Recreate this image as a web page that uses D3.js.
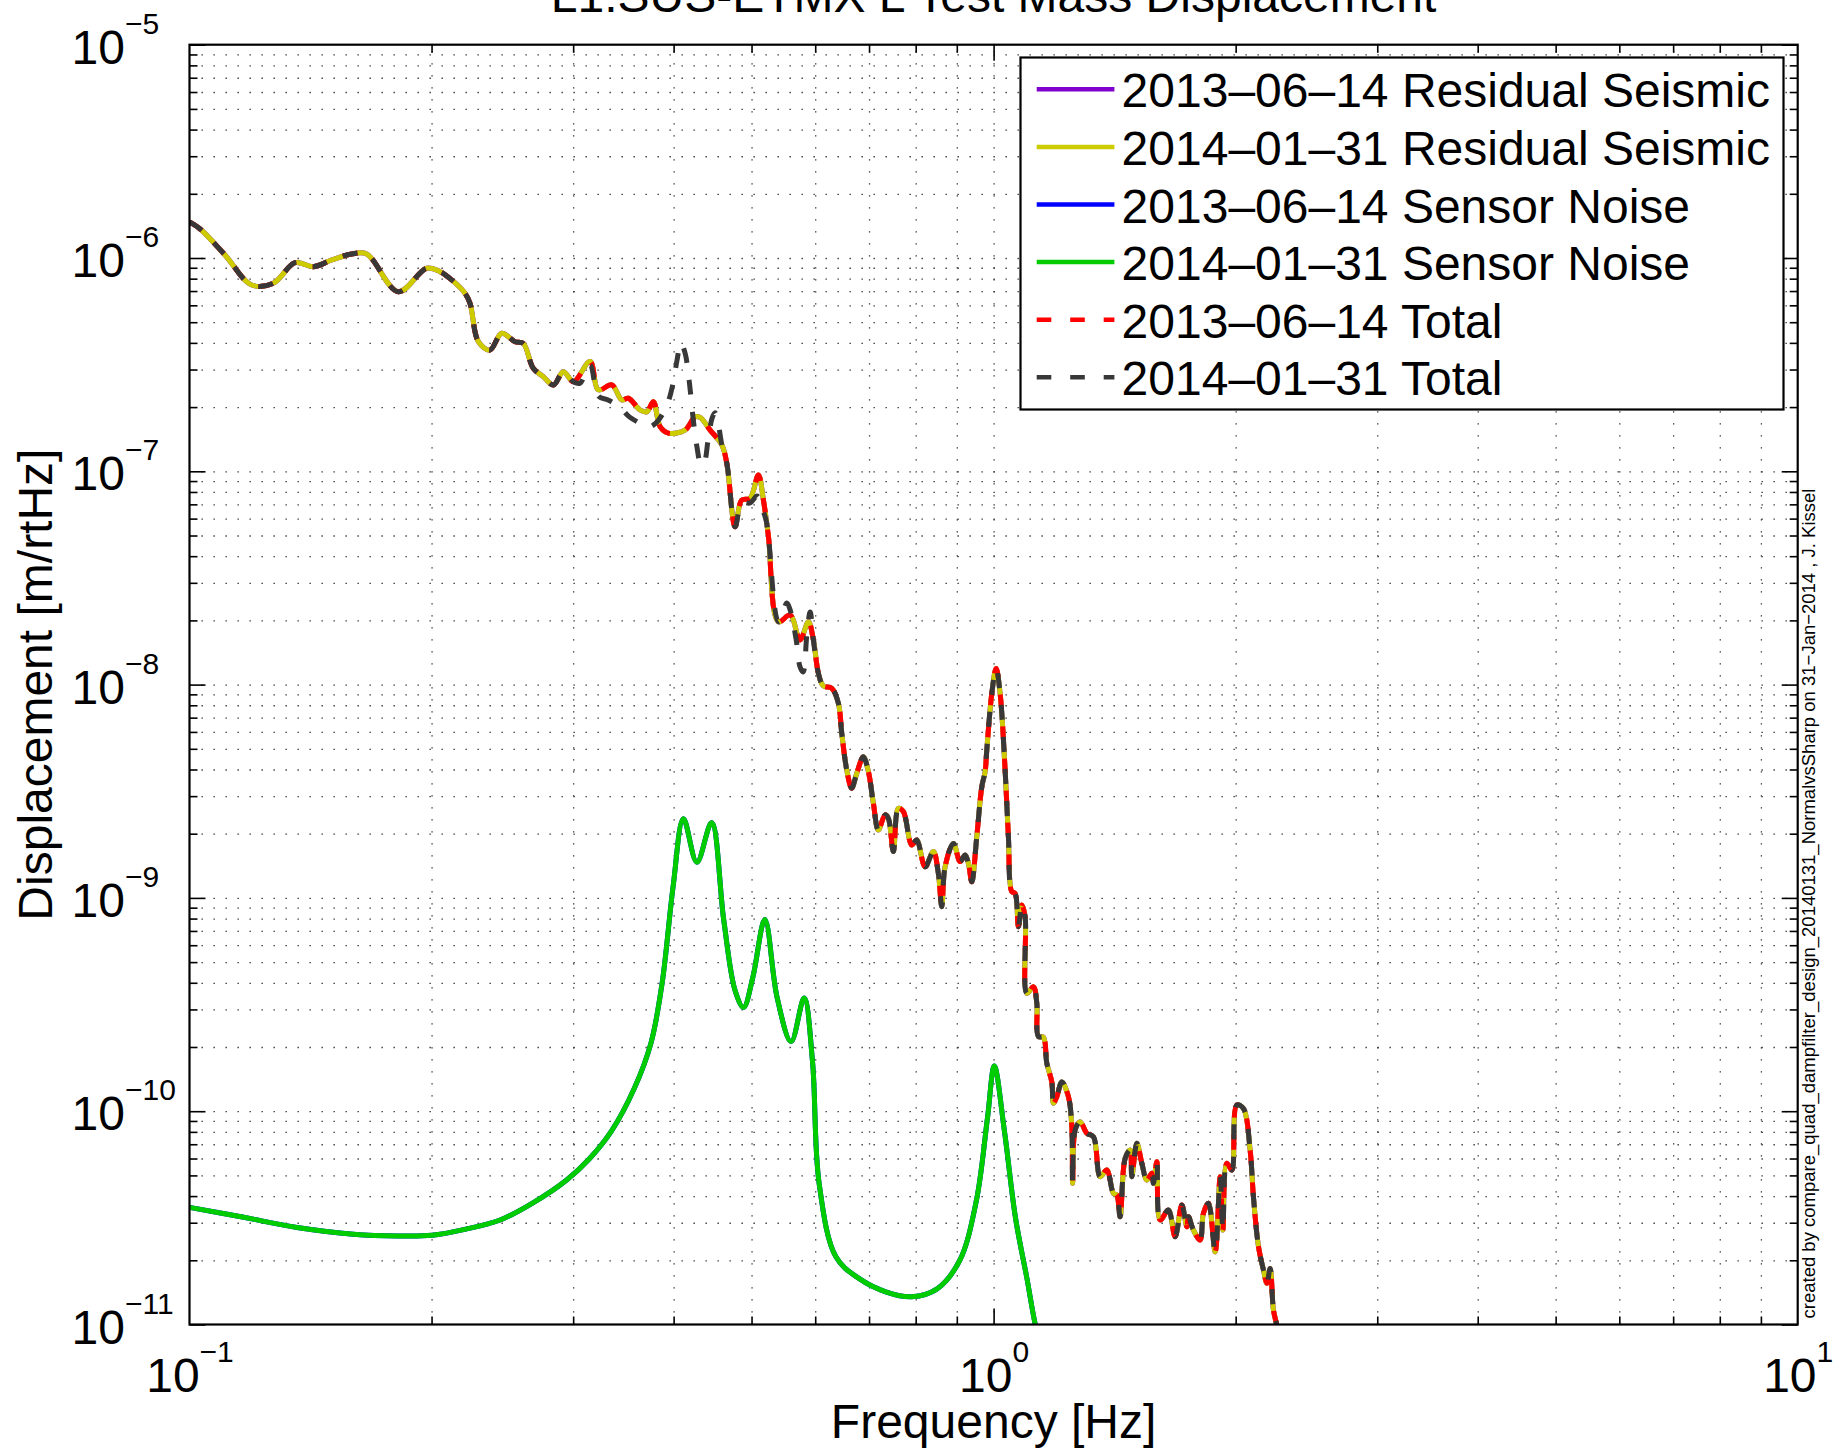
<!DOCTYPE html>
<html>
<head>
<meta charset="utf-8">
<script src="https://cdn.jsdelivr.net/npm/d3@7"></script>
<style>
  body { margin: 0; background: #fff; }
  svg text { font-family: "Liberation Sans", Arial, Helvetica, sans-serif; fill: #000; }
</style>
</head>
<body>
<div class="chart"></div>
<script>
// residual seismic (both dates lie on top of each other), [Hz, m/rtHz]
var residualSeismic = [
  [0.1, 1.475e-6], [0.1031, 1.368e-6], [0.1107, 1.033e-6], [0.1195, 7.47e-7], [0.1271, 7.61e-7],
  [0.1353, 9.51e-7], [0.1425, 9.10e-7], [0.1503, 9.79e-7], [0.1591, 1.044e-6], [0.1661, 1.044e-6],
  [0.1818, 6.95e-7], [0.1972, 8.95e-7], [0.2049, 8.63e-7], [0.2119, 7.89e-7], [0.2201, 6.83e-7],
  [0.2233, 6.13e-7], [0.2287, 4.05e-7], [0.2364, 3.70e-7], [0.2445, 4.44e-7], [0.2540, 4.05e-7],
  [0.2601, 3.98e-7], [0.2676, 3.04e-7], [0.2754, 2.78e-7], [0.2835, 2.54e-7], [0.2917, 2.93e-7],
  [0.3002, 2.63e-7], [0.3149, 3.27e-7], [0.3225, 2.41e-7], [0.3351, 2.54e-7], [0.3448, 2.16e-7],
  [0.3514, 2.20e-7], [0.3633, 1.94e-7], [0.3704, 1.90e-7], [0.3775, 2.12e-7], [0.3848, 1.62e-7],
  [0.3940, 1.51e-7], [0.4133, 1.56e-7], [0.4254, 1.80e-7], [0.4315, 1.79e-7], [0.4441, 1.56e-7],
  [0.4592, 1.33e-7], [0.4658, 1.09e-7], [0.4770, 5.50e-8], [0.4862, 7.33e-8], [0.4979, 7.47e-8],
  [0.5099, 9.61e-8], [0.5173, 7.33e-8], [0.5248, 4.94e-8], [0.5400, 1.97e-8], [0.5584, 2.12e-8],
  [0.5745, 1.62e-8], [0.5884, 1.97e-8], [0.5969, 1.62e-8], [0.6055, 1.13e-8], [0.6142, 9.85e-9],
  [0.6292, 9.61e-9], [0.6412, 8.17e-9], [0.6474, 5.91e-9], [0.6567, 3.98e-9], [0.6661, 3.27e-9],
  [0.6758, 3.84e-9], [0.6887, 4.59e-9], [0.6987, 3.91e-9], [0.7087, 2.78e-9], [0.7189, 2.08e-9],
  [0.7328, 2.45e-9], [0.7398, 2.36e-9], [0.7505, 1.65e-9], [0.7613, 2.63e-9], [0.7722, 2.54e-9],
  [0.7911, 1.77e-9], [0.8025, 1.87e-9], [0.8218, 1.40e-9], [0.8416, 1.65e-9], [0.8537, 1.30e-9],
  [0.8621, 9.10e-10], [0.8703, 1.40e-9], [0.8913, 1.80e-9], [0.9085, 1.48e-9], [0.9218, 1.59e-9],
  [0.9305, 1.45e-9], [0.9395, 1.19e-9], [0.9530, 1.94e-9], [0.9668, 3.32e-9], [0.9760, 3.91e-9],
  [0.9807, 4.94e-9], [0.9949, 9.10e-9], [1.0072, 1.19e-8], [1.0188, 9.10e-9], [1.0335, 3.98e-9],
  [1.0433, 1.94e-9], [1.0535, 1.07e-9], [1.0635, 1.05e-9], [1.0736, 7.33e-10], [1.0841, 9.26e-10],
  [1.0944, 8.17e-10], [1.0998, 3.57e-10], [1.1208, 3.83e-10], [1.1317, 3.21e-10], [1.1369, 2.24e-10],
  [1.1533, 2.22e-10], [1.1646, 1.68e-10], [1.1814, 1.37e-10], [1.1869, 1.09e-10], [1.1985, 1.17e-10],
  [1.2157, 1.37e-10], [1.2389, 1.17e-10], [1.2511, 8.46e-11], [1.2540, 4.59e-11], [1.2630, 8.17e-11],
  [1.2811, 8.93e-11], [1.3059, 7.88e-11], [1.3308, 7.59e-11], [1.3567, 4.93e-11], [1.3829, 5.30e-11],
  [1.4093, 4.12e-11], [1.4230, 4.05e-11], [1.4365, 3.20e-11], [1.4575, 6.01e-11], [1.4785, 6.58e-11],
  [1.4857, 4.93e-11], [1.5071, 7.07e-11], [1.5288, 5.70e-11], [1.5508, 4.76e-11], [1.5734, 5.12e-11],
  [1.5806, 4.59e-11], [1.5959, 5.80e-11], [1.6111, 3.09e-11], [1.6497, 3.44e-11], [1.6816, 2.58e-11],
  [1.7144, 3.63e-11], [1.7391, 2.87e-11], [1.7471, 3.20e-11], [1.7722, 2.77e-11], [1.8065, 2.49e-11],
  [1.8236, 3.32e-11], [1.8502, 3.70e-11], [1.8860, 2.19e-11], [1.9131, 4.93e-11], [1.9281, 2.77e-11],
  [1.9498, 5.70e-11], [1.9783, 5.30e-11], [2.0068, 1.07e-10], [2.0451, 1.03e-10], [2.0845, 6.58e-11],
  [2.1044, 3.97e-11], [2.1351, 2.32e-11], [2.1658, 1.80e-11], [2.1869, 1.56e-11], [2.2077, 1.83e-11],
  [2.2285, 1.17e-11], [2.2502, 9.94e-12], [2.2784, 8.0e-12]
];

// sensor noise (both dates overlap)
var sensorNoise = [
  [0.1, 3.54e-11], [0.1159, 3.20e-11], [0.1361, 2.85e-11], [0.1599, 2.65e-11], [0.1818, 2.60e-11],
  [0.2002, 2.62e-11], [0.2205, 2.80e-11], [0.2429, 3.08e-11], [0.2674, 3.72e-11], [0.2945, 4.76e-11],
  [0.3141, 5.97e-11], [0.3349, 8.09e-11], [0.3571, 1.27e-10], [0.3748, 2.08e-10], [0.3870, 3.97e-10],
  [0.3996, 1.146e-9], [0.4114, 2.35e-9], [0.4276, 1.47e-9], [0.4459, 2.25e-9], [0.4618, 7.84e-10],
  [0.4770, 3.68e-10], [0.4887, 3.07e-10], [0.5021, 4.28e-10], [0.5194, 7.91e-10], [0.5380, 3.41e-10],
  [0.5600, 2.12e-10], [0.5812, 3.39e-10], [0.5953, 1.72e-10], [0.6068, 4.58e-11], [0.6369, 2.07e-11],
  [0.6792, 1.65e-11], [0.7358, 1.42e-11], [0.7911, 1.35e-11], [0.8506, 1.47e-11], [0.9071, 1.99e-11],
  [0.9516, 3.79e-11], [0.9830, 9.41e-11], [1.0020, 1.63e-10], [1.0314, 8.09e-11], [1.0650, 3.14e-11],
  [1.1000, 1.65e-11], [1.1268, 1.0e-11], [1.149, 7.6e-12]
];

// where the 2014-01-31 total leaves the residual seismic curve
var total2014Departures = [
  [[0.3060, 2.59e-7], [0.3149, 3.15e-7], [0.3225, 2.25e-7], [0.3316, 2.16e-7], [0.3431, 2.00e-7],
   [0.3512, 1.82e-7], [0.3612, 1.70e-7], [0.3717, 1.61e-7], [0.3793, 1.67e-7], [0.3870, 1.84e-7],
   [0.3937, 2.11e-7], [0.3994, 2.59e-7], [0.4040, 3.33e-7], [0.4083, 4.00e-7], [0.4133, 3.59e-7],
   [0.4181, 2.68e-7], [0.4229, 1.78e-7], [0.4278, 1.29e-7], [0.4327, 1.07e-7], [0.4364, 1.09e-7],
   [0.4415, 1.40e-7], [0.4467, 1.78e-7], [0.4505, 1.88e-7], [0.4544, 1.68e-7], [0.4596, 1.31e-7]],
  [[0.4862, 7.10e-8], [0.4979, 7.10e-8], [0.5081, 7.66e-8], [0.5152, 6.73e-8], [0.5212, 5.91e-8]],
  [[0.5532, 2.41e-8], [0.5584, 2.24e-8], [0.5682, 1.62e-8], [0.5745, 1.21e-8], [0.5796, 1.146e-8],
   [0.5858, 1.71e-8], [0.5914, 2.19e-8]]
];

var legendLabels = [
  "2013\u201306\u201314 Residual Seismic",
  "2014\u201301\u201331 Residual Seismic",
  "2013\u201306\u201314 Sensor Noise",
  "2014\u201301\u201331 Sensor Noise",
  "2013\u201306\u201314 Total",
  "2014\u201301\u201331 Total"
];
var xMajorTicks = [0.1, 1, 10];
var xTickExp = ["\u22121", "0", "1"];
var yMajorTicks = [1e-11, 1e-10, 1e-9, 1e-8, 1e-7, 1e-6, 1e-5];
var yTickExp = ["\u221211", "\u221210", "\u22129", "\u22128", "\u22127", "\u22126", "\u22125"];

(function() {
    var width = 1846, height = 1451;
    var plot = {left: 189.5, right: 1797.7, top: 44.7, bottom: 1324.5};
    var ph = plot.bottom - plot.top, pw = plot.right - plot.left;

    var svg = d3.select(".chart")
                .append("svg")
                .attr("width", width)
                .attr("height", height)
                .style("display", "block");

    svg.append("rect").attr("width", width).attr("height", height).attr("fill", "#fff");

    var x = d3.scaleLog().domain([0.1, 10]).range([plot.left, plot.right]);
    var y = d3.scaleLog().domain([1e-11, 1e-5]).range([plot.bottom, plot.top]);

    var xAll = x.ticks(), yAll = y.ticks();
    var xMinor = xAll.filter(function(d) { return xMajorTicks.indexOf(d) < 0; });
    var yMinor = yAll.filter(function(d) {
        return !yMajorTicks.some(function(m) { return Math.abs(d / m - 1) < 1e-6; });
    });
    var xInner = xAll.filter(function(d) { return d > 0.1 && d < 10; });
    var yInner = yAll.filter(function(d) { return d > 1.0001e-11 && d < 0.9999e-5; });

    // dotted grid, major and minor
    svg.append("g")
        .attr("transform", "translate(0," + plot.bottom + ")")
        .call(d3.axisBottom(x).tickValues(xInner).tickSize(-ph).tickSizeOuter(0).tickFormat(""))
        .call(function(g) { g.select(".domain").remove(); });
    svg.append("g")
        .attr("transform", "translate(" + plot.left + ",0)")
        .call(d3.axisLeft(y).tickValues(yInner).tickSize(-pw).tickSizeOuter(0).tickFormat(""))
        .call(function(g) { g.select(".domain").remove(); });
    svg.selectAll(".tick line")
        .attr("stroke", "#2a2a2a")
        .attr("stroke-width", 1.3)
        .attr("stroke-dasharray", "1.3,10.7");

    // build the 2014 total from the seismic curve plus its departures
    var total2014 = residualSeismic.filter(function(p) {
        return !total2014Departures.some(function(seg) {
            return p[0] >= seg[0][0] && p[0] <= seg[seg.length - 1][0];
        });
    });
    total2014Departures.forEach(function(seg) { total2014 = total2014.concat(seg); });
    total2014.sort(function(a, b) { return a[0] - b[0]; });

    var series = [
        {data: residualSeismic, color: "#8000cc", dash: null},
        {data: residualSeismic, color: "#cccc00", dash: null},
        {data: sensorNoise, color: "#0000ff", dash: null},
        {data: sensorNoise, color: "#00cc00", dash: null},
        {data: residualSeismic, color: "#ff0000", dash: "15,17"},
        {data: total2014, color: "#383838", dash: "15,17"}
    ];

    svg.append("clipPath").attr("id", "plot-clip")
        .append("rect")
        .attr("x", plot.left).attr("y", plot.top)
        .attr("width", pw).attr("height", ph);

    var line = d3.line()
        .x(function(d) { return x(d[0]); })
        .y(function(d) { return y(d[1]); })
        .curve(d3.curveCatmullRom.alpha(0.5));

    svg.append("g")
        .attr("clip-path", "url(#plot-clip)")
        .selectAll("path")
        .data(series)
        .enter().append("path")
        .attr("d", function(d) { return line(d.data); })
        .attr("fill", "none")
        .attr("stroke", function(d) { return d.color; })
        .attr("stroke-width", 5)
        .attr("stroke-linejoin", "round")
        .attr("stroke-dasharray", function(d) { return d.dash; });

    // inward ticks on all four sides
    function ticks(axis, transform) {
        svg.append("g")
            .attr("transform", transform)
            .call(axis.tickSizeOuter(0).tickFormat(""))
            .call(function(g) { g.select(".domain").remove(); })
            .selectAll(".tick line")
            .attr("stroke", "#000")
            .attr("stroke-width", 1.6);
    }
    ticks(d3.axisBottom(x).tickValues(xMinor).tickSize(-8), "translate(0," + plot.bottom + ")");
    ticks(d3.axisBottom(x).tickValues([1]).tickSize(-16), "translate(0," + plot.bottom + ")");
    ticks(d3.axisTop(x).tickValues(xMinor).tickSize(-8), "translate(0," + plot.top + ")");
    ticks(d3.axisTop(x).tickValues([1]).tickSize(-16), "translate(0," + plot.top + ")");
    ticks(d3.axisLeft(y).tickValues(yMinor).tickSize(-8), "translate(" + plot.left + ",0)");
    ticks(d3.axisLeft(y).tickValues(yMajorTicks).tickSize(-16), "translate(" + plot.left + ",0)");
    ticks(d3.axisRight(y).tickValues(yMinor).tickSize(-8), "translate(" + plot.right + ",0)");
    ticks(d3.axisRight(y).tickValues(yMajorTicks).tickSize(-16), "translate(" + plot.right + ",0)");

    svg.append("rect")
        .attr("x", plot.left).attr("y", plot.top)
        .attr("width", pw).attr("height", ph)
        .attr("fill", "none")
        .attr("stroke", "#000")
        .attr("stroke-width", 2.2);

    // tick labels as 10^n
    var xLabels = svg.append("g")
        .attr("transform", "translate(0," + plot.bottom + ")")
        .call(d3.axisBottom(x).tickValues(xMajorTicks).tickSize(0).tickFormat(""));
    xLabels.select(".domain").remove();
    xLabels.selectAll(".tick text")
        .attr("y", 67.2).attr("dy", null)
        .attr("font-size", 48)
        .attr("font-family", null)
        .attr("text-anchor", "middle")
        .each(function(d, i) {
            var t = d3.select(this);
            t.append("tspan").text("10");
            t.append("tspan").attr("dy", -30).attr("font-size", 30).text(xTickExp[i]);
        });

    var yLabels = svg.append("g")
        .attr("transform", "translate(" + plot.left + ",0)")
        .call(d3.axisLeft(y).tickValues(yMajorTicks).tickSize(0).tickFormat(""));
    yLabels.select(".domain").remove();
    yLabels.selectAll(".tick text")
        .attr("x", 71.6 - plot.left).attr("y", 18.5).attr("dy", null)
        .attr("font-size", 48)
        .attr("font-family", null)
        .attr("text-anchor", "start")
        .each(function(d, i) {
            var t = d3.select(this);
            t.append("tspan").text("10");
            t.append("tspan").attr("dy", -30).attr("font-size", 30).text(yTickExp[i]);
        });

    // titles
    svg.append("text")
        .attr("x", (plot.left + plot.right) / 2).attr("y", 11.5)
        .attr("text-anchor", "middle")
        .attr("font-size", 48)
        .text("L1:SUS-ETMX L Test Mass Displacement");

    svg.append("text")
        .attr("x", (plot.left + plot.right) / 2).attr("y", 1438)
        .attr("text-anchor", "middle")
        .attr("font-size", 48)
        .text("Frequency [Hz]");

    svg.append("text")
        .attr("transform", "translate(52," + (plot.top + plot.bottom) / 2 + ") rotate(-90)")
        .attr("text-anchor", "middle")
        .attr("font-size", 48)
        .text("Displacement [m/rtHz]");

    svg.append("text")
        .attr("transform", "translate(1815,1318.5) rotate(-90)")
        .attr("text-anchor", "start")
        .attr("font-size", 18.5)
        .text("created by compare_quad_dampfilter_design_20140131_NormalvsSharp on 31\u2212Jan\u22122014 , J. Kissel");

    // legend
    var legend = svg.append("g");
    legend.append("rect")
        .attr("x", 1020.5).attr("y", 57.5)
        .attr("width", 763).attr("height", 352)
        .attr("fill", "#fff")
        .attr("stroke", "#000")
        .attr("stroke-width", 2.2);

    var entries = legend.selectAll(".entry")
        .data(series)
        .enter().append("g")
        .attr("class", "entry")
        .attr("transform", function(d, i) { return "translate(0," + (89.3 + i * 57.6) + ")"; });

    entries.append("line")
        .attr("x1", 1036.7).attr("x2", 1114.4)
        .attr("stroke", function(d) { return d.color; })
        .attr("stroke-width", 4.5)
        .attr("stroke-dasharray", function(d) { return d.dash ? "14.6,18.9" : null; });

    entries.append("text")
        .attr("x", 1121.6).attr("y", 18)
        .attr("font-size", 48)
        .text(function(d, i) { return legendLabels[i]; });
})();
</script>
</body>
</html>
